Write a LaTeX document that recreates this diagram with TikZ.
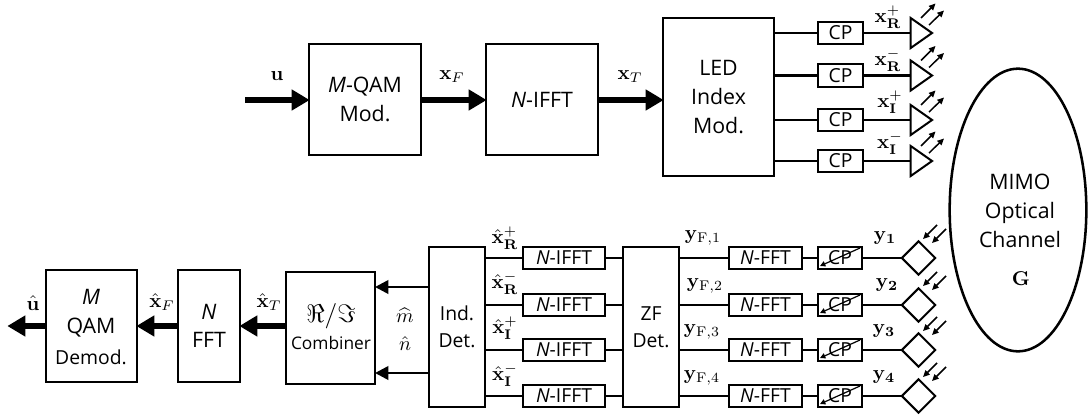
\documentclass[tikz,border=0pt]{standalone}
\usepackage[no-math]{fontspec}
\usepackage{amsmath,amssymb,amsfonts}
\setmainfont{Open Sans}
\usetikzlibrary{arrows.meta,shapes.geometric}
\newcommand{\bx}[6][]{%
  \pgfmathsetmacro{\cxa}{(#3+#5)/2}\pgfmathsetmacro{\cya}{(#4+#6)/2}%
  \pgfmathsetmacro{\wa}{(#5-#3)*0.75}\pgfmathsetmacro{\ha}{(#6-#4)*0.75}%
  \node[blk,minimum width=\wa pt,minimum height=\ha pt,#1] (#2) at (\cxa,\cya)}
\tikzset{
  x=0.75pt,y=-0.75pt,
  blk/.style={draw=black,line width=1.9pt,fill=white,inner sep=0pt,outer sep=0pt,align=center,font=\fontsize{16}{21.5}\selectfont},
  small/.style={font=\fontsize{14.5}{17}\selectfont},
  det/.style={font=\fontsize{14.5}{20}\selectfont},
  wire/.style={line width=1.9pt},
  thick arrow/.style={line width=5pt,-{Triangle[length=13.5pt,width=15pt]},shorten >=-0.5pt},
  mid arrow/.style={line width=2pt,-{Triangle[length=10pt,width=10pt]}},
  ray/.style={line width=1.1pt,-{Triangle[length=5pt,width=4.5pt]}},
  tx/.style={draw=black,line width=1.5pt,isosceles triangle,isosceles triangle stretches,shape border rotate=0,minimum width=22.5pt,minimum height=16pt,inner sep=0pt,outer sep=0pt},
  rx/.style={draw=black,line width=1.5pt,diamond,aspect=1,minimum width=25pt,minimum height=25pt,inner sep=0pt,outer sep=0pt},
  lab/.style={inner sep=0pt,scale=1.5},
}
\begin{document}
\begin{tikzpicture}
\useasboundingbox (0,0) rectangle (1088,415);
% --- transmitter
\coordinate (uin) at (245,100);
\bx{qam}{309}{44}{421}{155} {\textit{M}-QAM\\Mod.};
\bx{ifft}{486}{44}{598}{155} {\textit{N}-IFFT};
\bx{led}{663}{18}{774}{176} {LED\\Index\\Mod.};
\draw[thick arrow] (uin) -- (qam.west |- uin);
\draw[thick arrow] (qam.east |- uin) -- (ifft.west |- uin);
\draw[thick arrow] (ifft.east |- uin) -- (led.west |- uin);
\node[lab] (lu) at (277,76) {$\mathbf{u}$};
\node[lab] (lxf) at (452,77) {$\mathbf{x}_{F}$};
\node[lab] (lxt) at (630,77) {$\mathbf{x}_{T}$};
\bx[small]{cpa}{818}{22}{863}{44} {CP};
\bx[small]{cpb}{818}{64}{863}{87} {CP};
\bx[small]{cpc}{818}{109}{863}{131} {CP};
\bx[small]{cpd}{818}{150}{863}{172} {CP};
\foreach \n/\y in {a/33,b/75.5,c/120,d/161}{
  \node[tx] (led\n) at (918.5,\y) {};
  \draw[wire] (led.east |- cp\n.west) -- (cp\n.west);
  \draw[wire] (cp\n.east) -- (led\n.west |- cp\n.east);
  \draw[ray] (921,\y-15) -- ++(14.5,-14.5);
  \draw[ray] (929,\y-8) -- ++(15,-14.5);
}
\node[lab] (xrp) at (888,17) {$\mathbf{x}_{\mathbf{R}}^{+}$};
\node[lab] (xrm) at (888,60) {$\mathbf{x}_{\mathbf{R}}^{-}$};
\node[lab] (xip) at (890,102) {$\mathbf{x}_{\mathbf{I}}^{+}$};
\node[lab] (xim) at (890,143) {$\mathbf{x}_{\mathbf{I}}^{-}$};
% --- channel
\node[draw=black,line width=1.9pt,ellipse,minimum width=102.5pt,minimum height=212pt,inner sep=0pt,outer sep=0pt] (chan) at (1018,210) {};
\node[font=\fontsize{16}{22}\selectfont,align=center,inner sep=0pt] (chant) at (1020,211) {MIMO\\Optical\\Channel};
\node[lab] (chang) at (1021,279) {$\mathbf{G}$};
% --- receiver
\bx[det]{ind}{429}{247}{485}{407} {Ind.\\Det.};
\bx[det]{zf}{623}{247}{679}{407} {ZF\\Det.};
\bx{comb}{286}{272}{375}{384} {};
\node[inner sep=0pt,scale=1.9] (re) at (331,316) {$\Re/\Im$};
\node[inner sep=0pt,font=\fontsize{13}{15}\selectfont] (combt) at (331,343) {Combiner};
\bx{fft}{178}{270}{240}{382} {\textit{N}\\FFT};
\bx[small]{dem}{46}{270}{137}{382} {};
\node[inner sep=0pt,font=\fontsize{16}{21.5}\selectfont,align=center] (demt) at (91,313) {\textit{M}\\QAM};
\node[inner sep=0pt,font=\fontsize{14.5}{15}\selectfont] (demu) at (91,357) {Demod.};
\coordinate (uout) at (8,326);
\draw[thick arrow] (comb.west |- uout) -- (fft.east |- uout);
\draw[thick arrow] (fft.west |- uout) -- (dem.east |- uout);
\draw[thick arrow] (dem.west |- uout) -- (uout);
\coordinate (ma) at (429,287);
\coordinate (na) at (429,373);
\draw[mid arrow] (ma) -- (comb.east |- ma);
\draw[mid arrow] (na) -- (comb.east |- na);
\node[lab] (mh) at (405,315) {$\widehat{m}$};
\node[lab] (nh) at (405,344) {$\hat{n}$};
\foreach \n/\ya/\yb/\yc in {a/247/269/258,b/294/316/305,c/339/361/350,d/385/407/396}{
  \bx[small]{if\n}{523}{\ya}{605}{\yb} {\textit{N}-IFFT};
  \bx[small]{ff\n}{729}{\ya}{802}{\yb} {\textit{N}-FFT};
  \bx[small]{cr\n}{818}{\ya}{862}{\yb} {CP};
  \node[rx] (pd\n) at (918.5,\yc) {};
  \draw[wire] (ind.east |- if\n.west) -- (if\n.west);
  \draw[wire] (if\n.east) -- (zf.west |- if\n.east);
  \draw[wire] (zf.east |- ff\n.west) -- (ff\n.west);
  \draw[wire] (ff\n.east) -- (cr\n.west);
  \draw[wire] (cr\n.east) -- (pd\n.west);
  \draw[line width=0.9pt,-{Triangle[length=4pt,width=4pt]}] (cr\n.north east) ++(-2,1) -- ++(-40,18);
  \draw[ray] (937,\yc-33) -- ++(-14,14);
  \draw[ray] (946,\yc-29) -- ++(-14,14);
}
\node[lab] (hrp) at (505,238) {$\hat{\mathbf{x}}_{\mathbf{R}}^{+}$};
\node[lab] (hrm) at (505,283) {$\hat{\mathbf{x}}_{\mathbf{R}}^{-}$};
\node[lab] (hip) at (505,328) {$\hat{\mathbf{x}}_{\mathbf{I}}^{+}$};
\node[lab] (him) at (505,375) {$\hat{\mathbf{x}}_{\mathbf{I}}^{-}$};
\node[lab] (yf1) at (703,238) {$\mathbf{y}_{\mathrm{F},1}$};
\node[lab] (yf2) at (705,286) {$\mathbf{y}_{\mathrm{F},2}$};
\node[lab] (yf3) at (702,332) {$\mathbf{y}_{\mathrm{F},3}$};
\node[lab] (yf4) at (702,378) {$\mathbf{y}_{\mathrm{F},4}$};
\node[lab] (y1) at (885,238) {$\mathbf{y}_{\mathbf{1}}$};
\node[lab] (y2) at (887,285) {$\mathbf{y}_{\mathbf{2}}$};
\node[lab] (y3) at (884,331) {$\mathbf{y}_{\mathbf{3}}$};
\node[lab] (y4) at (884,377) {$\mathbf{y}_{\mathbf{4}}$};
\node[lab] (uh) at (33,303) {$\hat{\mathbf{u}}$};
\node[lab] (xfh) at (162,302) {$\hat{\mathbf{x}}_{F}$};
\node[lab] (xth) at (269,302) {$\hat{\mathbf{x}}_{T}$};
\end{tikzpicture}
\end{document}
